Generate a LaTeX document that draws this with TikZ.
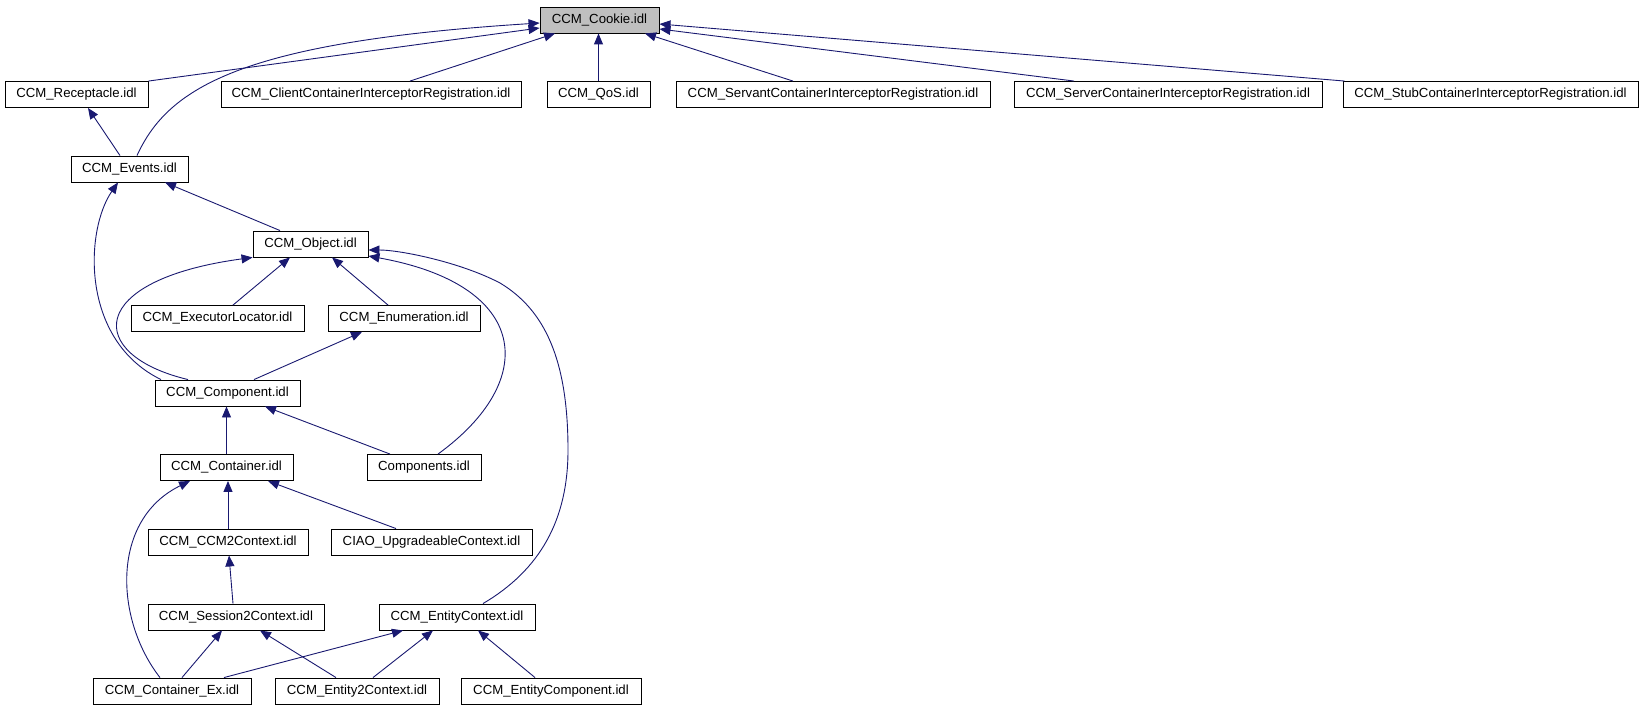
\documentclass[tikz,border=0pt]{standalone}
\usepackage{fontspec}
\setmainfont{Liberation Sans}
\usepackage{tikz}
\usetikzlibrary{arrows.meta,calc}
\definecolor{midnight}{HTML}{191970}

\begin{document}
\begin{tikzpicture}[x=1pt, y=-1pt,
      every node/.style = {shape=rectangle, draw, align=center,
        minimum height=26pt, inner sep=0pt, line width=0.9pt,
        font=\fontsize{13.2}{15}\selectfont},
      dep/.style = {draw=midnight, line width=0.9pt,
        -{Triangle[length=11pt, width=9pt]}}]
    \useasboundingbox (0,0) rectangle (1645,709);
    \node[fill=black!25, minimum width=119pt] (cookie) at (599.5,20) {CCM\_Cookie.idl};
    \node[minimum width=143pt] (receptacle) at (76.5,94.5) {CCM\_Receptacle.idl};
    \node[minimum width=300pt] (client) at (371,94.5) {CCM\_ClientContainerInterceptorRegistration.idl};
    \node[minimum width=103pt] (qos) at (598.5,94.5) {CCM\_QoS.idl};
    \node[minimum width=314pt] (servant) at (833,94.5) {CCM\_ServantContainerInterceptorRegistration.idl};
    \node[minimum width=308pt] (server) at (1168,94.5) {CCM\_ServerContainerInterceptorRegistration.idl};
    \node[minimum width=295pt] (stub) at (1490.5,94.5) {CCM\_StubContainerInterceptorRegistration.idl};
    \node[minimum width=117pt] (events) at (129.5,169) {CCM\_Events.idl};
    \node[minimum width=115pt] (object) at (310.5,244) {CCM\_Object.idl};
    \node[minimum width=173pt] (execlocator) at (217.5,318.5) {CCM\_ExecutorLocator.idl};
    \node[minimum width=152pt] (enumeration) at (404,318.5) {CCM\_Enumeration.idl};
    \node[minimum width=145pt] (component) at (227.5,393) {CCM\_Component.idl};
    \node[minimum width=133pt] (container) at (226.5,467.5) {CCM\_Container.idl};
    \node[minimum width=114pt] (components) at (424,467.5) {Components.idl};
    \node[minimum width=160pt] (ccm2context) at (228,542) {CCM\_CCM2Context.idl};
    \node[minimum width=201pt] (ciao) at (431.5,542) {CIAO\_UpgradeableContext.idl};
    \node[minimum width=176pt] (session2) at (236,617) {CCM\_Session2Context.idl};
    \node[minimum width=156pt] (entityctx) at (457,617) {CCM\_EntityContext.idl};
    \node[minimum width=158pt] (containerex) at (172,691) {CCM\_Container\_Ex.idl};
    \node[minimum width=164pt] (entity2) at (357,691) {CCM\_Entity2Context.idl};
    \node[minimum width=180pt] (entitycomp) at (551,691) {CCM\_EntityComponent.idl};

    \draw[dep] (receptacle.north east) -- ($(cookie.west)+(0,8)$);
    \draw[dep] ($(events.north)+(7.5,0)$) .. controls (168,88) and (240,42) .. ($(cookie.west)+(0,3)$);
    \draw[dep] ($(client.north)+(39,0)$) -- ($(cookie.south)+(-44.5,0)$);
    \draw[dep] (qos.north) -- (qos.north |- cookie.south);
    \draw[dep] ($(servant.north)+(-40,0)$) -- ($(cookie.south)+(45.5,0)$);
    \draw[dep] ($(server.north)+(-94,0)$) -- ($(cookie.east)+(0,9)$);
    \draw[dep] ($(stub.north west)+(2,0)$) -- ($(cookie.east)+(0,4)$);
    \draw[dep] ($(events.north)+(-9.5,0)$) -- ($(receptacle.south)+(11.5,0)$);
    \draw[dep] ($(object.north)+(-30.5,0)$) -- ($(events.south)+(35.5,0)$);
    \draw[dep] ($(component.north)+(-66.5,0)$) .. controls (80,340) and (85,230) .. ($(events.south)+(-11.5,0)$);
    \draw[dep] ($(component.north)+(-39.5,0)$) .. controls (85,355) and (85,280) .. (object.south west);
    \draw[dep] ($(execlocator.north)+(15.5,0)$) -- ($(object.south)+(-20.5,0)$);
    \draw[dep] ($(enumeration.north)+(-16,0)$) -- ($(object.south)+(21.5,0)$);
    \draw[dep] ($(components.north)+(14,0)$) .. controls (540,380) and (530,285) .. ($(object.east)+(0,12)$);
    \draw[dep] ($(entityctx.north)+(26,0)$) .. controls (540,570) and (568,520) .. (568,450)
      .. controls (568,360) and (545,310) .. (500,283)
      .. controls (460,262) and (400,250) .. ($(object.east)+(0,6)$);
    \draw[dep] ($(component.north)+(26.5,0)$) -- ($(enumeration.south)+(-42,0)$);
    \draw[dep] (container.north) -- (container.north |- component.south);
    \draw[dep] ($(components.north)+(-34,0)$) -- ($(component.south)+(37.5,0)$);
    \draw[dep] (ccm2context.north) -- (ccm2context.north |- container.south);
    \draw[dep] ($(ciao.north)+(-35.5,0)$) -- ($(container.south)+(41.5,0)$);
    \draw[dep] ($(containerex.north)+(-12,0)$) .. controls (115,620) and (110,520) .. ($(container.south)+(-36.5,0)$);
    \draw[dep] ($(session2.north)+(-3,0)$) -- ($(ccm2context.south)+(1,0)$);
    \draw[dep] ($(containerex.north)+(10,0)$) -- ($(session2.south)+(-14,0)$);
    \draw[dep] ($(containerex.north)+(52,0)$) -- ($(entityctx.south)+(-54,0)$);
    \draw[dep] ($(entity2.north)+(-21,0)$) -- ($(session2.south)+(24,0)$);
    \draw[dep] ($(entity2.north)+(16,0)$) -- ($(entityctx.south)+(-24,0)$);
    \draw[dep] ($(entitycomp.north)+(-16,0)$) -- ($(entityctx.south)+(21,0)$);
  \end{tikzpicture}
\end{document}
